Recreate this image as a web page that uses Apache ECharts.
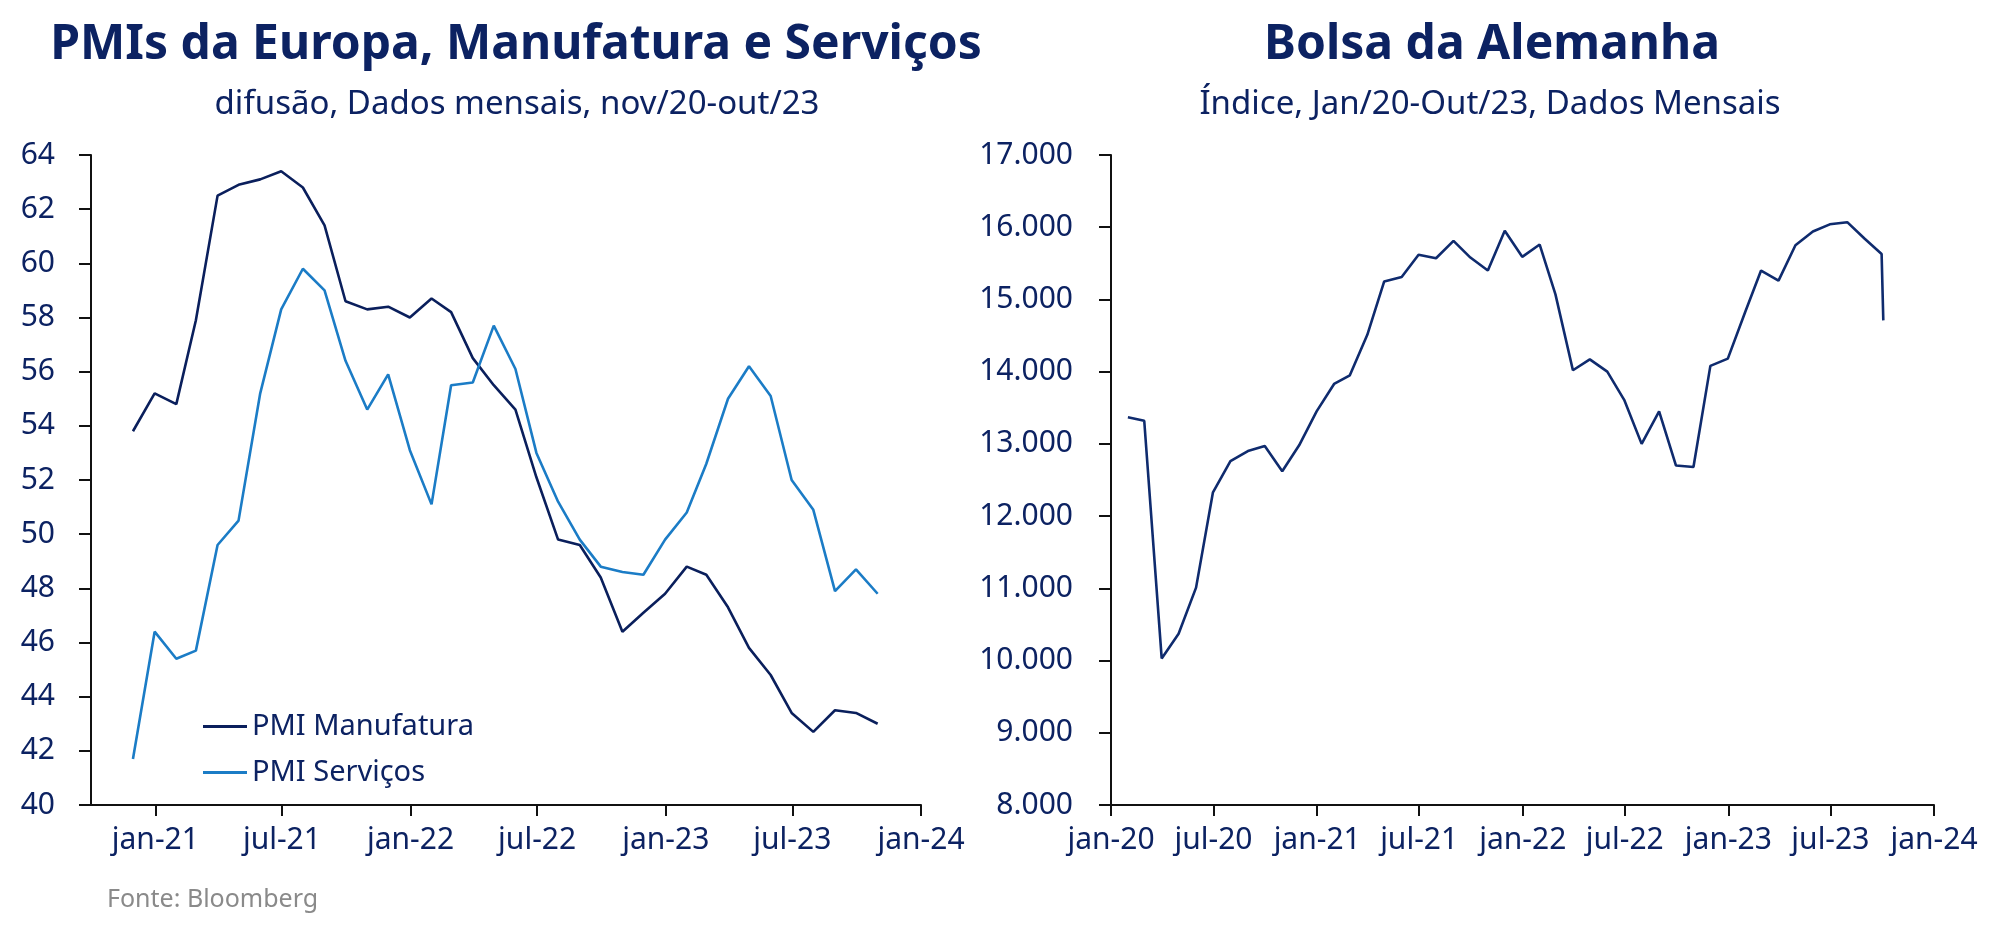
<!DOCTYPE html>
<html>
<head>
<meta charset="utf-8">
<script src="https://cdn.jsdelivr.net/npm/echarts@6/dist/echarts.min.js"></script>
<style>
  html, body { margin: 0; padding: 0; background: #fff; }
  #chart { width: 2000px; height: 941px; }
</style>
</head>
<body>
<div id="chart"></div>
<script>
// PMIs da Europa (fim de mês, nov/20 - out/23)
const pmiMonths = ['2020-11','2020-12','2021-01','2021-02','2021-03','2021-04','2021-05','2021-06','2021-07','2021-08','2021-09','2021-10','2021-11','2021-12',
  '2022-01','2022-02','2022-03','2022-04','2022-05','2022-06','2022-07','2022-08','2022-09','2022-10','2022-11','2022-12',
  '2023-01','2023-02','2023-03','2023-04','2023-05','2023-06','2023-07','2023-08','2023-09','2023-10'];
const pmiManufatura = [53.8, 55.2, 54.8, 57.9, 62.5, 62.9, 63.1, 63.4, 62.8, 61.4, 58.6, 58.3, 58.4, 58.0,
  58.7, 58.2, 56.5, 55.5, 54.6, 52.1, 49.8, 49.6, 48.4, 46.4, 47.1, 47.8,
  48.8, 48.5, 47.3, 45.8, 44.8, 43.4, 42.7, 43.5, 43.4, 43.0];
const pmiServicos = [41.7, 46.4, 45.4, 45.7, 49.6, 50.5, 55.2, 58.3, 59.8, 59.0, 56.4, 54.6, 55.9, 53.1,
  51.1, 55.5, 55.6, 57.7, 56.1, 53.0, 51.2, 49.8, 48.8, 48.6, 48.5, 49.8,
  50.8, 52.6, 55.0, 56.2, 55.1, 52.0, 50.9, 47.9, 48.7, 47.8];

// Bolsa da Alemanha (índice, jan/20 - out/23)
const daxDates = ['2020-01-31','2020-02-29','2020-03-31','2020-04-30','2020-05-31','2020-06-30','2020-07-31','2020-08-31','2020-09-30','2020-10-31','2020-11-30','2020-12-31',
  '2021-01-31','2021-02-28','2021-03-31','2021-04-30','2021-05-31','2021-06-30','2021-07-31','2021-08-31','2021-09-30','2021-10-31','2021-11-30','2021-12-31',
  '2022-01-31','2022-02-28','2022-03-31','2022-04-30','2022-05-31','2022-06-30','2022-07-31','2022-08-31','2022-09-30','2022-10-31','2022-11-30','2022-12-31',
  '2023-01-31','2023-02-28','2023-03-31','2023-04-30','2023-05-31','2023-06-30','2023-07-31','2023-08-31','2023-09-30','2023-10-03'];
const daxValues = [13370, 13320, 10030, 10370, 11010, 12330, 12760, 12900, 12970, 12620, 12980, 13450,
  13830, 13950, 14510, 15250, 15310, 15620, 15570, 15810, 15580, 15400, 15950, 15590,
  15760, 15070, 14020, 14170, 14000, 13610, 13000, 13450, 12700, 12680, 14080, 14180,
  14830, 15400, 15260, 15750, 15940, 16040, 16070, 15840, 15630, 14710];

const tickDates = ['2020-01','2020-07','2021-01','2021-07','2022-01','2022-07','2023-01','2023-07','2024-01'];
const pmiTickDates = ['2021-01','2021-07','2022-01','2022-07','2023-01','2023-07','2024-01'];

const navy = '#0c2262';
const fontFam = '"Noto Sans", "Open Sans", sans-serif';
const meses = ['jan','fev','mar','abr','mai','jun','jul','ago','set','out','nov','dez'];

function monthStart(s) {
  const p = s.split('-');
  return new Date(+p[0], +p[1] - 1, 1).getTime();
}
function monthEnd(s) {
  const p = s.split('-');
  return new Date(+p[0], +p[1], 0).getTime();
}
function day(s) {
  const p = s.split('-');
  return new Date(+p[0], +p[1] - 1, +p[2]).getTime();
}
function fmtDate(v) {
  const d = new Date(v);
  return meses[d.getMonth()] + '-' + String(d.getFullYear()).slice(2);
}

const manData = pmiMonths.map((m, i) => [monthEnd(m), pmiManufatura[i]]);
const serData = pmiMonths.map((m, i) => [monthEnd(m), pmiServicos[i]]);
const daxData = daxDates.map((d, i) => [day(d), daxValues[i]]);

const axisLine = { show: true, lineStyle: { color: '#111', width: 2 } };
const axisTickY = { show: true, length: 12, lineStyle: { color: '#111', width: 2 } };
const axisTickX = { show: true, length: 11, lineStyle: { color: '#111', width: 2 } };
const lblStyle = { color: navy, fontSize: 30, fontFamily: fontFam };

const chart = echarts.init(document.getElementById('chart'));
chart.setOption({
  backgroundColor: '#fff',
  animation: false,
  title: [
    { text: 'PMIs da Europa, Manufatura e Serviços', left: 511, top: 16, textAlign: 'center',
      textStyle: { color: navy, fontSize: 48, fontWeight: 'bold', fontFamily: fontFam } },
    { text: 'difusão, Dados mensais, nov/20-out/23', left: 512, top: 83, textAlign: 'center',
      textStyle: { color: navy, fontSize: 33, fontWeight: 'normal', fontFamily: fontFam } },
    { text: 'Bolsa da Alemanha', left: 1487, top: 16, textAlign: 'center',
      textStyle: { color: navy, fontSize: 48, fontWeight: 'bold', fontFamily: fontFam } },
    { text: 'Índice, Jan/20-Out/23, Dados Mensais', left: 1485, top: 83, textAlign: 'center',
      textStyle: { color: navy, fontSize: 33, fontWeight: 'normal', fontFamily: fontFam } }
  ],
  legend: {
    data: ['PMI Manufatura', 'PMI Serviços'],
    orient: 'vertical',
    left: 198, top: 707,
    itemWidth: 44, itemHeight: 3, itemGap: 17,
    icon: 'rect',
    textStyle: { color: navy, fontSize: 29, fontFamily: fontFam }
  },
  graphic: [
    { type: 'text', left: 107, top: 887,
      style: { text: 'Fonte: Bloomberg', fill: '#8a8a8a', fontSize: 25, fontFamily: fontFam } }
  ],
  grid: [
    { left: 91, top: 155, width: 830, height: 650 },
    { left: 1111, top: 155, width: 823, height: 650 }
  ],
  xAxis: [
    { type: 'value', gridIndex: 0, min: monthStart('2020-10'), max: monthStart('2024-01'),
      axisLine: axisLine, axisTick: Object.assign({ customValues: pmiTickDates.map(monthStart) }, axisTickX),
      axisLabel: Object.assign({ customValues: pmiTickDates.map(monthStart), margin: 20, formatter: fmtDate, hideOverlap: false }, lblStyle),
      splitLine: { show: false } },
    { type: 'value', gridIndex: 1, min: monthStart('2020-01'), max: monthStart('2024-01'),
      axisLine: axisLine, axisTick: Object.assign({ customValues: tickDates.map(monthStart) }, axisTickX),
      axisLabel: Object.assign({ customValues: tickDates.map(monthStart), margin: 20, formatter: fmtDate, hideOverlap: false }, lblStyle),
      splitLine: { show: false } }
  ],
  yAxis: [
    { type: 'value', gridIndex: 0, min: 40, max: 64, interval: 2,
      axisLine: axisLine, axisTick: axisTickY,
      axisLabel: Object.assign({ margin: 36 }, lblStyle),
      splitLine: { show: false } },
    { type: 'value', gridIndex: 1, min: 8000, max: 17000, interval: 1000,
      axisLine: axisLine, axisTick: axisTickY,
      axisLabel: Object.assign({ margin: 38, formatter: v => (v / 1000) + '.000' }, lblStyle),
      splitLine: { show: false } }
  ],
  series: [
    { name: 'PMI Manufatura', type: 'line', xAxisIndex: 0, yAxisIndex: 0, data: manData,
      showSymbol: false, color: '#0a1f5c', lineStyle: { color: '#0a1f5c', width: 2.6 } },
    { name: 'PMI Serviços', type: 'line', xAxisIndex: 0, yAxisIndex: 0, data: serData,
      showSymbol: false, color: '#1b7cc6', lineStyle: { color: '#1b7cc6', width: 2.6 } },
    { name: 'DAX', type: 'line', xAxisIndex: 1, yAxisIndex: 1, data: daxData,
      showSymbol: false, color: '#0f2b6e', lineStyle: { color: '#0f2b6e', width: 2.6 } }
  ]
});
</script>
</body>
</html>
